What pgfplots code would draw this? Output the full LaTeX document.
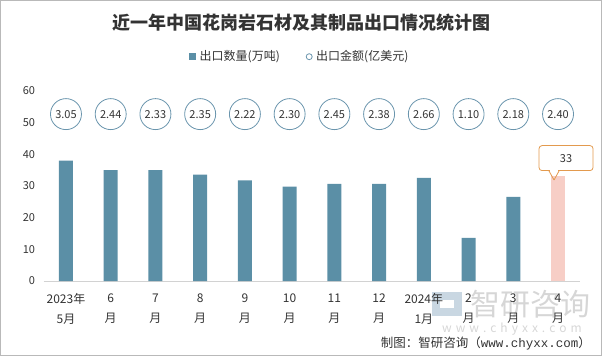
\documentclass[border=0pt]{standalone}
\usepackage{pgfplots}
\pgfplotsset{compat=1.18}
\usepackage{fontspec}
\setmainfont{Noto Sans CJK SC}
\newfontfamily\monof{Liberation Mono}
\definecolor{barc}{HTML}{5B8FA6}
\definecolor{pinkc}{HTML}{F7CEC6}
\definecolor{circc}{HTML}{6A95AD}
\definecolor{calc}{HTML}{E39A4E}
\definecolor{txt}{HTML}{333333}
\definecolor{wm}{HTML}{C9D7E2}
\begin{document}
\begin{tikzpicture}[x=1pt,y=1pt]
\path (0,0) rectangle (602,356);
\draw[gray!55, line width=0.8pt] (0.4,0.4) rectangle (601.6,355.6);
% watermark
\fill[wm] (432,40) rectangle (462,64);
\fill[white] (440,48) rectangle (454,56);
\node[text=gray!32, font=\fontsize{30}{30}\selectfont] at (530,52) {智研咨询};
\node[text=gray!32, font=\fontsize{12}{12}\selectfont] at (512,27) {w\hspace{4pt}w\hspace{4pt}w\hspace{4pt}.\hspace{4pt}c\hspace{4pt}h\hspace{4pt}y\hspace{4pt}x\hspace{4pt}x\hspace{4pt}.\hspace{4pt}c\hspace{4pt}o\hspace{4pt}m};
% title
\node[text=txt, font=\fontsize{18}{18}\selectfont\bfseries] at (301,333) {近一年中国花岗岩石材及其制品出口情况统计图};
% legend
\fill[barc] (188.5,296) rectangle (195.5,303);
\node[anchor=west, text=txt, font=\fontsize{12}{12}\selectfont, inner sep=0pt] at (199.5,299.3) {出口数量(万吨)};
\draw[circc, line width=0.8pt] (309.2,299.3) circle (3pt);
\node[anchor=west, text=txt, font=\fontsize{12}{12}\selectfont, inner sep=0pt] at (316,299.3) {出口金额(亿美元)};
% source
\node[anchor=east, text=txt, font=\fontsize{12.5}{12.5}\selectfont, inner sep=0pt] at (591,13) {制图：智研咨询（{\monof www.chyxx.com}）};
\begin{axis}[
  at={(43.6pt,75pt)}, anchor=south west,
  scale only axis, width=536.8pt, height=190pt,
  xmin=-0.5, xmax=11.5, ymin=0, ymax=60,
  axis x line=bottom, axis y line=left,
  axis line style={-},
  y axis line style={draw=none},
  x axis line style={draw=gray!35, line width=0.8pt},
  major tick length=0pt,
  ytick={0,10,...,60},
  xtick={0,...,11},
  xticklabels={2023年\\5月,6\\月,7\\月,8\\月,9\\月,10\\月,11\\月,12\\月,2024年\\1月,2\\月,3\\月,4\\月},
  xticklabel style={align=center, text=txt, font=\fontsize{12}{20}\selectfont, yshift=-9pt},
  yticklabel style={text=txt, font=\fontsize{11}{11}\selectfont, xshift=-5pt},
  /pgf/number format/assume math mode=true,
  clip=false,
]
\addplot[ybar, bar width=14pt, bar shift=0pt, fill=barc, draw=none] coordinates {
(0,38) (1,35) (2,35) (3,33.6) (4,31.8) (5,29.8) (6,30.7) (7,30.7) (8,32.6) (9,13.6) (10,26.6)
};
\addplot[ybar, bar width=14pt, bar shift=0pt, fill=pinkc, draw=none] coordinates {(11,33)};
\addplot[only marks, mark=none, point meta=explicit symbolic, nodes near coords,
  every node near coord/.append style={draw=calc, fill=white, line width=0.8pt, rounded corners=3pt,
    minimum width=54pt, minimum height=25pt, anchor=south, xshift=8pt, yshift=5.5pt,
    text=txt, font=\fontsize{11}{11}\selectfont,
    append after command={
      ([xshift=-16.4pt]\tikzlastnode.south) edge[draw=white, line width=1.6pt, rounded corners=0pt] ([xshift=-7.6pt]\tikzlastnode.south)
      ([xshift=-17pt]\tikzlastnode.south) edge[draw=calc, line width=0.8pt, rounded corners=0pt] ([xshift=-12pt,yshift=-9pt]\tikzlastnode.south)
      ([xshift=-12pt,yshift=-9pt]\tikzlastnode.south) edge[draw=calc, line width=0.8pt, rounded corners=0pt] ([xshift=-7pt]\tikzlastnode.south)
    }}
] table[meta=v] {
x y v
11 33 33
};
\addplot[only marks, mark=o, mark size=15.5pt, mark options={draw=circc, line width=0.8pt, fill=white},
  point meta=explicit symbolic, nodes near coords,
  every node near coord/.append style={anchor=center, text=txt, font=\fontsize{11}{11}\selectfont}
] table[meta=v] {
x y v
0 52.7 3.05
1 52.7 2.44
2 52.7 2.33
3 52.7 2.35
4 52.7 2.22
5 52.7 2.30
6 52.7 2.45
7 52.7 2.38
8 52.7 2.66
9 52.7 1.10
10 52.7 2.18
11 52.7 2.40
};
\end{axis}
\end{tikzpicture}
\end{document}
